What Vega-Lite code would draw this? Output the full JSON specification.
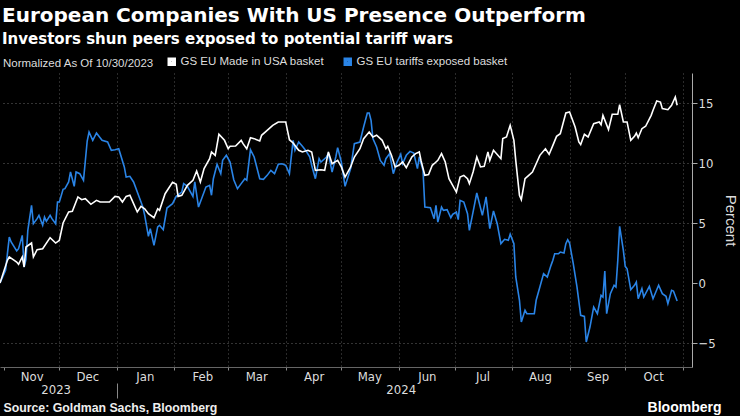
{
  "$schema": "https://vega.github.io/schema/vega-lite/v6.json",
  "width": 692,
  "height": 294,
  "autosize": {"type": "none"},
  "padding": {"left": 0, "right": 48, "top": 73, "bottom": 49},
  "background": "#000000",
  "config": {
    "view": {"stroke": null},
    "font": "Liberation Sans",
    "axis": {"labelFont": "DejaVu Sans Condensed, Liberation Sans"}
  },
  "title": {
    "text": "European Companies With US Presence Outperform",
    "subtitle": "Investors shun peers exposed to potential tariff wars",
    "anchor": "start",
    "frame": "group",
    "font": "DejaVu Sans",
    "fontSize": 20,
    "fontWeight": "bold",
    "color": "#ffffff",
    "subtitleFont": "DejaVu Sans",
    "subtitleFontSize": 15,
    "subtitleFontWeight": "bold",
    "subtitleColor": "#ffffff",
    "subtitlePadding": 6.5,
    "offset": 9,
    "dx": 2
  },
  "datasets": {
    "usa": [
      {"date": "2023-10-30", "value": 0},
      {"date": "2023-11-03", "value": 1.89},
      {"date": "2023-11-04", "value": 2.17},
      {"date": "2023-11-08", "value": 1.75},
      {"date": "2023-11-09", "value": 1.56},
      {"date": "2023-11-11", "value": 2.17},
      {"date": "2023-11-12", "value": 1.33},
      {"date": "2023-11-13", "value": 3.0},
      {"date": "2023-11-16", "value": 3.33},
      {"date": "2023-11-17", "value": 2.17},
      {"date": "2023-11-19", "value": 2.78},
      {"date": "2023-11-22", "value": 2.86},
      {"date": "2023-11-26", "value": 3.78},
      {"date": "2023-11-29", "value": 3.33},
      {"date": "2023-12-01", "value": 3.56},
      {"date": "2023-12-03", "value": 5.0},
      {"date": "2023-12-06", "value": 5.92},
      {"date": "2023-12-08", "value": 5.97},
      {"date": "2023-12-11", "value": 7.17},
      {"date": "2023-12-13", "value": 6.94},
      {"date": "2023-12-15", "value": 7.03},
      {"date": "2023-12-18", "value": 6.56},
      {"date": "2023-12-21", "value": 6.89},
      {"date": "2023-12-23", "value": 6.75},
      {"date": "2023-12-28", "value": 6.75},
      {"date": "2023-12-31", "value": 7.22},
      {"date": "2024-01-02", "value": 7.17},
      {"date": "2024-01-04", "value": 6.75},
      {"date": "2024-01-06", "value": 7.22},
      {"date": "2024-01-08", "value": 7.31},
      {"date": "2024-01-10", "value": 6.61},
      {"date": "2024-01-12", "value": 5.92},
      {"date": "2024-01-14", "value": 6.39},
      {"date": "2024-01-16", "value": 6.19},
      {"date": "2024-01-18", "value": 5.78},
      {"date": "2024-01-21", "value": 5.44},
      {"date": "2024-01-23", "value": 6.19},
      {"date": "2024-01-24", "value": 6.06},
      {"date": "2024-01-27", "value": 7.44},
      {"date": "2024-01-31", "value": 8.39},
      {"date": "2024-02-02", "value": 8.22},
      {"date": "2024-02-03", "value": 7.22},
      {"date": "2024-02-05", "value": 7.31},
      {"date": "2024-02-08", "value": 8.14},
      {"date": "2024-02-11", "value": 8.56},
      {"date": "2024-02-13", "value": 9.33},
      {"date": "2024-02-15", "value": 8.42},
      {"date": "2024-02-17", "value": 9.53},
      {"date": "2024-02-20", "value": 10.36},
      {"date": "2024-02-21", "value": 10.92},
      {"date": "2024-02-23", "value": 10.64},
      {"date": "2024-02-25", "value": 12.39},
      {"date": "2024-02-28", "value": 11.89},
      {"date": "2024-03-01", "value": 11.19},
      {"date": "2024-03-02", "value": 11.39},
      {"date": "2024-03-05", "value": 11.42},
      {"date": "2024-03-08", "value": 11.89},
      {"date": "2024-03-09", "value": 11.61},
      {"date": "2024-03-11", "value": 11.19},
      {"date": "2024-03-13", "value": 12.11},
      {"date": "2024-03-15", "value": 12.03},
      {"date": "2024-03-18", "value": 11.83},
      {"date": "2024-03-19", "value": 12.31},
      {"date": "2024-03-22", "value": 12.72},
      {"date": "2024-03-25", "value": 13.14},
      {"date": "2024-03-28", "value": 13.42},
      {"date": "2024-04-01", "value": 13.42},
      {"date": "2024-04-03", "value": 11.94},
      {"date": "2024-04-05", "value": 11.67},
      {"date": "2024-04-08", "value": 11.06},
      {"date": "2024-04-10", "value": 10.92},
      {"date": "2024-04-13", "value": 11.06},
      {"date": "2024-04-15", "value": 10.92},
      {"date": "2024-04-17", "value": 9.39},
      {"date": "2024-04-20", "value": 9.44},
      {"date": "2024-04-22", "value": 9.39},
      {"date": "2024-04-24", "value": 10.92},
      {"date": "2024-04-26", "value": 9.94},
      {"date": "2024-04-29", "value": 10.22},
      {"date": "2024-05-01", "value": 9.67},
      {"date": "2024-05-03", "value": 8.83},
      {"date": "2024-05-06", "value": 9.67},
      {"date": "2024-05-08", "value": 10.5},
      {"date": "2024-05-11", "value": 11.19},
      {"date": "2024-05-13", "value": 12.03},
      {"date": "2024-05-16", "value": 12.58},
      {"date": "2024-05-18", "value": 12.17},
      {"date": "2024-05-20", "value": 12.31},
      {"date": "2024-05-23", "value": 11.89},
      {"date": "2024-05-25", "value": 11.19},
      {"date": "2024-05-26", "value": 11.39},
      {"date": "2024-05-28", "value": 10.64},
      {"date": "2024-05-30", "value": 9.67},
      {"date": "2024-06-01", "value": 9.81},
      {"date": "2024-06-03", "value": 10.08},
      {"date": "2024-06-05", "value": 9.61},
      {"date": "2024-06-08", "value": 10.5},
      {"date": "2024-06-10", "value": 10.78},
      {"date": "2024-06-12", "value": 10.92},
      {"date": "2024-06-13", "value": 10.17},
      {"date": "2024-06-15", "value": 8.97},
      {"date": "2024-06-17", "value": 9.03},
      {"date": "2024-06-19", "value": 9.81},
      {"date": "2024-06-20", "value": 9.94},
      {"date": "2024-06-22", "value": 10.22},
      {"date": "2024-06-24", "value": 10.78},
      {"date": "2024-06-26", "value": 10.08},
      {"date": "2024-06-28", "value": 8.69},
      {"date": "2024-06-30", "value": 8.14},
      {"date": "2024-07-02", "value": 7.58},
      {"date": "2024-07-04", "value": 8.83},
      {"date": "2024-07-06", "value": 8.97},
      {"date": "2024-07-08", "value": 8.69},
      {"date": "2024-07-09", "value": 8.28},
      {"date": "2024-07-11", "value": 9.25},
      {"date": "2024-07-13", "value": 10.5},
      {"date": "2024-07-15", "value": 9.67},
      {"date": "2024-07-17", "value": 9.72},
      {"date": "2024-07-19", "value": 10.92},
      {"date": "2024-07-20", "value": 10.22},
      {"date": "2024-07-22", "value": 11.06},
      {"date": "2024-07-26", "value": 10.36},
      {"date": "2024-07-27", "value": 12.03},
      {"date": "2024-07-29", "value": 12.17},
      {"date": "2024-07-31", "value": 13.14},
      {"date": "2024-08-02", "value": 11.89},
      {"date": "2024-08-03", "value": 10.22},
      {"date": "2024-08-05", "value": 7.31},
      {"date": "2024-08-06", "value": 6.94},
      {"date": "2024-08-08", "value": 8.69},
      {"date": "2024-08-10", "value": 8.97},
      {"date": "2024-08-12", "value": 9.25},
      {"date": "2024-08-14", "value": 9.94},
      {"date": "2024-08-16", "value": 10.64},
      {"date": "2024-08-19", "value": 11.19},
      {"date": "2024-08-21", "value": 10.72},
      {"date": "2024-08-23", "value": 11.47},
      {"date": "2024-08-25", "value": 12.22},
      {"date": "2024-08-27", "value": 12.44},
      {"date": "2024-08-30", "value": 14.17},
      {"date": "2024-09-01", "value": 14.25},
      {"date": "2024-09-04", "value": 13.0},
      {"date": "2024-09-06", "value": 11.75},
      {"date": "2024-09-07", "value": 11.53},
      {"date": "2024-09-09", "value": 12.39},
      {"date": "2024-09-11", "value": 12.17},
      {"date": "2024-09-14", "value": 13.28},
      {"date": "2024-09-17", "value": 13.42},
      {"date": "2024-09-18", "value": 13.19},
      {"date": "2024-09-19", "value": 13.97},
      {"date": "2024-09-22", "value": 12.78},
      {"date": "2024-09-24", "value": 14.06},
      {"date": "2024-09-27", "value": 14.06},
      {"date": "2024-09-28", "value": 14.86},
      {"date": "2024-09-30", "value": 13.42},
      {"date": "2024-10-02", "value": 13.42},
      {"date": "2024-10-04", "value": 11.89},
      {"date": "2024-10-06", "value": 12.22},
      {"date": "2024-10-07", "value": 12.5},
      {"date": "2024-10-08", "value": 12.11},
      {"date": "2024-10-10", "value": 12.86},
      {"date": "2024-10-12", "value": 13.06},
      {"date": "2024-10-15", "value": 13.97},
      {"date": "2024-10-16", "value": 14.39},
      {"date": "2024-10-18", "value": 15.17},
      {"date": "2024-10-20", "value": 15.08},
      {"date": "2024-10-21", "value": 14.53},
      {"date": "2024-10-24", "value": 14.44},
      {"date": "2024-10-26", "value": 14.81},
      {"date": "2024-10-28", "value": 15.5},
      {"date": "2024-10-29", "value": 14.81}
    ],
    "tariff": [
      {"date": "2023-10-30", "value": 0},
      {"date": "2023-11-02", "value": 1.06},
      {"date": "2023-11-04", "value": 3.83},
      {"date": "2023-11-05", "value": 3.42},
      {"date": "2023-11-08", "value": 2.67},
      {"date": "2023-11-09", "value": 2.86},
      {"date": "2023-11-11", "value": 3.97},
      {"date": "2023-11-12", "value": 1.33},
      {"date": "2023-11-13", "value": 1.94},
      {"date": "2023-11-14", "value": 4.39},
      {"date": "2023-11-16", "value": 6.47},
      {"date": "2023-11-17", "value": 4.94},
      {"date": "2023-11-19", "value": 5.36},
      {"date": "2023-11-20", "value": 5.64},
      {"date": "2023-11-22", "value": 4.81},
      {"date": "2023-11-23", "value": 5.5},
      {"date": "2023-11-24", "value": 5.14},
      {"date": "2023-11-26", "value": 5.64},
      {"date": "2023-11-27", "value": 5.36},
      {"date": "2023-11-29", "value": 4.94},
      {"date": "2023-11-30", "value": 6.75},
      {"date": "2023-12-01", "value": 6.75},
      {"date": "2023-12-03", "value": 7.81},
      {"date": "2023-12-04", "value": 7.86},
      {"date": "2023-12-06", "value": 8.42},
      {"date": "2023-12-07", "value": 9.25},
      {"date": "2023-12-09", "value": 8.06},
      {"date": "2023-12-10", "value": 9.25},
      {"date": "2023-12-12", "value": 9.11},
      {"date": "2023-12-14", "value": 8.56},
      {"date": "2023-12-16", "value": 11.83},
      {"date": "2023-12-17", "value": 12.58},
      {"date": "2023-12-19", "value": 11.89},
      {"date": "2023-12-21", "value": 12.5},
      {"date": "2023-12-24", "value": 11.89},
      {"date": "2023-12-27", "value": 11.75},
      {"date": "2023-12-29", "value": 11.06},
      {"date": "2023-12-31", "value": 11.11},
      {"date": "2024-01-02", "value": 11.19},
      {"date": "2024-01-05", "value": 9.67},
      {"date": "2024-01-06", "value": 8.83},
      {"date": "2024-01-08", "value": 8.89},
      {"date": "2024-01-10", "value": 8.42},
      {"date": "2024-01-13", "value": 7.17},
      {"date": "2024-01-15", "value": 6.33},
      {"date": "2024-01-16", "value": 5.64},
      {"date": "2024-01-18", "value": 3.89},
      {"date": "2024-01-19", "value": 4.53},
      {"date": "2024-01-21", "value": 3.14},
      {"date": "2024-01-23", "value": 4.67},
      {"date": "2024-01-24", "value": 4.81},
      {"date": "2024-01-26", "value": 4.44},
      {"date": "2024-01-28", "value": 6.25},
      {"date": "2024-01-31", "value": 6.61},
      {"date": "2024-02-02", "value": 7.22},
      {"date": "2024-02-05", "value": 7.58},
      {"date": "2024-02-06", "value": 8.28},
      {"date": "2024-02-08", "value": 8.06},
      {"date": "2024-02-11", "value": 7.22},
      {"date": "2024-02-12", "value": 8.42},
      {"date": "2024-02-14", "value": 6.33},
      {"date": "2024-02-16", "value": 7.17},
      {"date": "2024-02-18", "value": 8.0},
      {"date": "2024-02-20", "value": 8.14},
      {"date": "2024-02-21", "value": 7.31},
      {"date": "2024-02-22", "value": 8.69},
      {"date": "2024-02-24", "value": 9.89},
      {"date": "2024-02-26", "value": 9.11},
      {"date": "2024-02-27", "value": 10.22},
      {"date": "2024-02-29", "value": 10.64},
      {"date": "2024-03-02", "value": 10.08},
      {"date": "2024-03-04", "value": 8.61},
      {"date": "2024-03-06", "value": 7.86},
      {"date": "2024-03-08", "value": 8.28},
      {"date": "2024-03-10", "value": 8.69},
      {"date": "2024-03-11", "value": 8.56},
      {"date": "2024-03-13", "value": 11.11},
      {"date": "2024-03-15", "value": 10.5},
      {"date": "2024-03-16", "value": 9.89},
      {"date": "2024-03-18", "value": 8.69},
      {"date": "2024-03-20", "value": 8.64},
      {"date": "2024-03-22", "value": 8.97},
      {"date": "2024-03-24", "value": 9.39},
      {"date": "2024-03-26", "value": 9.11},
      {"date": "2024-03-28", "value": 9.89},
      {"date": "2024-03-30", "value": 9.94},
      {"date": "2024-04-01", "value": 9.81},
      {"date": "2024-04-03", "value": 9.11},
      {"date": "2024-04-05", "value": 11.89},
      {"date": "2024-04-06", "value": 11.06},
      {"date": "2024-04-08", "value": 11.75},
      {"date": "2024-04-10", "value": 11.39},
      {"date": "2024-04-12", "value": 11.0},
      {"date": "2024-04-14", "value": 10.5},
      {"date": "2024-04-15", "value": 9.81},
      {"date": "2024-04-17", "value": 8.69},
      {"date": "2024-04-19", "value": 10.36},
      {"date": "2024-04-20", "value": 10.08},
      {"date": "2024-04-23", "value": 10.5},
      {"date": "2024-04-24", "value": 10.78},
      {"date": "2024-04-26", "value": 9.25},
      {"date": "2024-04-28", "value": 10.5},
      {"date": "2024-04-29", "value": 11.28},
      {"date": "2024-05-01", "value": 10.08},
      {"date": "2024-05-03", "value": 8.06},
      {"date": "2024-05-06", "value": 9.53},
      {"date": "2024-05-08", "value": 11.61},
      {"date": "2024-05-11", "value": 11.75},
      {"date": "2024-05-13", "value": 13.0},
      {"date": "2024-05-15", "value": 14.17},
      {"date": "2024-05-16", "value": 14.17},
      {"date": "2024-05-17", "value": 13.56},
      {"date": "2024-05-18", "value": 12.03},
      {"date": "2024-05-20", "value": 11.33},
      {"date": "2024-05-22", "value": 10.22},
      {"date": "2024-05-24", "value": 9.81},
      {"date": "2024-05-25", "value": 10.36},
      {"date": "2024-05-27", "value": 10.78},
      {"date": "2024-05-29", "value": 9.11},
      {"date": "2024-05-31", "value": 10.08},
      {"date": "2024-06-02", "value": 10.72},
      {"date": "2024-06-03", "value": 9.94},
      {"date": "2024-06-05", "value": 10.64},
      {"date": "2024-06-07", "value": 10.97},
      {"date": "2024-06-09", "value": 10.83},
      {"date": "2024-06-11", "value": 9.53},
      {"date": "2024-06-12", "value": 10.5},
      {"date": "2024-06-14", "value": 9.39},
      {"date": "2024-06-15", "value": 6.33},
      {"date": "2024-06-18", "value": 6.28},
      {"date": "2024-06-20", "value": 5.36},
      {"date": "2024-06-21", "value": 6.47},
      {"date": "2024-06-22", "value": 5.08},
      {"date": "2024-06-24", "value": 6.33},
      {"date": "2024-06-25", "value": 6.06},
      {"date": "2024-06-27", "value": 6.11},
      {"date": "2024-06-29", "value": 5.44},
      {"date": "2024-06-30", "value": 5.72},
      {"date": "2024-07-02", "value": 5.92},
      {"date": "2024-07-03", "value": 5.28},
      {"date": "2024-07-04", "value": 6.89},
      {"date": "2024-07-06", "value": 6.75},
      {"date": "2024-07-08", "value": 5.78},
      {"date": "2024-07-09", "value": 4.39},
      {"date": "2024-07-11", "value": 5.92},
      {"date": "2024-07-13", "value": 7.5},
      {"date": "2024-07-16", "value": 5.64},
      {"date": "2024-07-18", "value": 7.17},
      {"date": "2024-07-20", "value": 4.53},
      {"date": "2024-07-22", "value": 6.0},
      {"date": "2024-07-24", "value": 4.94},
      {"date": "2024-07-26", "value": 3.28},
      {"date": "2024-07-28", "value": 3.64},
      {"date": "2024-07-30", "value": 3.56},
      {"date": "2024-07-31", "value": 4.06},
      {"date": "2024-08-02", "value": 3.28},
      {"date": "2024-08-03", "value": 0.5},
      {"date": "2024-08-05", "value": -1.44},
      {"date": "2024-08-06", "value": -3.25},
      {"date": "2024-08-08", "value": -2.28},
      {"date": "2024-08-09", "value": -2.56},
      {"date": "2024-08-11", "value": -2.56},
      {"date": "2024-08-13", "value": -2.56},
      {"date": "2024-08-14", "value": -1.44},
      {"date": "2024-08-16", "value": -0.33},
      {"date": "2024-08-18", "value": 0.78},
      {"date": "2024-08-20", "value": 0.5},
      {"date": "2024-08-22", "value": 1.47},
      {"date": "2024-08-23", "value": 1.89},
      {"date": "2024-08-24", "value": 2.44},
      {"date": "2024-08-26", "value": 2.44},
      {"date": "2024-08-27", "value": 2.58},
      {"date": "2024-08-29", "value": 2.5},
      {"date": "2024-08-30", "value": 3.28},
      {"date": "2024-08-31", "value": 3.61},
      {"date": "2024-09-01", "value": 3.33},
      {"date": "2024-09-03", "value": 1.61},
      {"date": "2024-09-05", "value": -0.33},
      {"date": "2024-09-07", "value": -2.69},
      {"date": "2024-09-09", "value": -2.78},
      {"date": "2024-09-10", "value": -4.92},
      {"date": "2024-09-12", "value": -3.67},
      {"date": "2024-09-14", "value": -2.0},
      {"date": "2024-09-16", "value": -2.56},
      {"date": "2024-09-18", "value": -1.03},
      {"date": "2024-09-19", "value": -1.17},
      {"date": "2024-09-20", "value": 1.0},
      {"date": "2024-09-21", "value": -2.56},
      {"date": "2024-09-23", "value": -0.89},
      {"date": "2024-09-25", "value": -0.19},
      {"date": "2024-09-26", "value": -0.33},
      {"date": "2024-09-27", "value": 1.89},
      {"date": "2024-09-28", "value": 4.72},
      {"date": "2024-09-30", "value": 2.72},
      {"date": "2024-10-01", "value": 1.39},
      {"date": "2024-10-02", "value": 1.19},
      {"date": "2024-10-04", "value": -0.56},
      {"date": "2024-10-06", "value": -0.19},
      {"date": "2024-10-07", "value": 0.08},
      {"date": "2024-10-08", "value": -1.31},
      {"date": "2024-10-10", "value": -0.47},
      {"date": "2024-10-11", "value": -1.17},
      {"date": "2024-10-14", "value": -0.28},
      {"date": "2024-10-16", "value": -1.31},
      {"date": "2024-10-19", "value": -0.19},
      {"date": "2024-10-21", "value": -0.89},
      {"date": "2024-10-23", "value": -1.11},
      {"date": "2024-10-24", "value": -1.72},
      {"date": "2024-10-26", "value": -0.61},
      {"date": "2024-10-27", "value": -0.67},
      {"date": "2024-10-29", "value": -1.5}
    ]
  },
  "resolve": {"axis": {"x": "independent"}},
  "layer": [
    {
      "mark": {"type": "rule", "color": "#e6e6e6", "strokeDash": [2, 2], "strokeWidth": 1.5},
      "encoding": {
        "y": {"datum": 0, "type": "quantitative", "scale": {"domain": [-7, 17.5], "nice": false, "zero": false}}
      }
    },
    {
      "data": {"name": "tariff"},
      "mark": {"type": "line", "strokeWidth": 1.6},
      "encoding": {
        "x": {
          "field": "date",
          "type": "temporal",
          "scale": {"domain": [{"year": 2023, "month": 10, "date": 30}, {"year": 2024, "month": 11, "date": 6}]},
          "axis": {
            "orient": "bottom",
            "offset": 16,
            "values": [{"year": 2023, "month": 11, "date": 29}, {"year": 2024, "month": 1, "date": 1}, {"year": 2024, "month": 6, "date": 2}],
            "labelExpr": "month(datum.value) === 0 ? '' : timeFormat(datum.value, '%Y')",
            "grid": false,
            "domain": false,
            "tickSize": 15,
            "tickColor": "#888888",
            "tickOpacity": {"condition": {"test": "month(datum.value) === 0", "value": 1}, "value": 0},
            "labelPadding": -15,
            "labelFont": "DejaVu Sans Condensed, Liberation Sans",
            "labelFontSize": 13,
            "labelColor": "#dddddd",
            "labelFlush": false,
            "labelOverlap": false,
            "title": "Source: Goldman Sachs, Bloomberg",
            "titleX": 3,
            "titleY": 24,
            "titleAlign": "left",
            "titleAnchor": "start",
            "titleBaseline": "middle",
            "titleFont": "Liberation Sans",
            "titleFontSize": 12.3,
            "titleFontWeight": "bold",
            "titleColor": "#eeeeee"
          }
        },
        "y": {
          "field": "value",
          "type": "quantitative",
          "scale": {"domain": [-7, 17.5], "nice": false, "zero": false},
          "axis": {
            "orient": "right",
            "values": [-5, -2.5, 0, 2.5, 5, 7.5, 10, 12.5, 15, 17.5],
            "labelExpr": "datum.value % 5 === 0 ? datum.label : ''",
            "grid": true,
            "gridColor": "#666666",
            "gridDash": [1, 3],
            "gridOpacity": {"condition": {"test": "datum.value % 5 === 0 && datum.value !== 0", "value": 1}, "value": 0},
            "domain": true,
            "domainColor": "#aaaaaa",
            "tickColor": "#aaaaaa",
            "tickSize": 5,
            "labelFont": "DejaVu Sans Condensed, Liberation Sans",
            "labelFontSize": 13,
            "labelColor": "#dddddd",
            "labelPadding": 1,
            "title": "Percent",
            "titleFont": "Liberation Sans",
            "titleFontSize": 15,
            "titleFontWeight": "normal",
            "titleColor": "#dddddd",
            "titlePadding": 7
          }
        },
        "color": {
          "datum": "GS EU tariffs exposed basket",
          "type": "nominal",
          "scale": {"domain": ["GS EU Made in USA basket", "GS EU tariffs exposed basket"], "range": ["#ffffff", "#2a84e6"]},
          "legend": {
            "orient": "none",
            "legendX": 3,
            "legendY": -17,
            "direction": "horizontal",
            "title": "Normalized As Of 10/30/2023",
            "titleOrient": "left",
            "titleFont": "Liberation Sans",
            "titleFontSize": 11.5,
            "titleFontWeight": "normal",
            "titleColor": "#dddddd",
            "titlePadding": 12,
            "labelFont": "Liberation Sans",
            "labelFontSize": 11.5,
            "labelColor": "#dddddd",
            "symbolType": "square",
            "symbolSize": 20,
            "symbolStrokeWidth": 4,
            "columnPadding": 12,
            "labelOffset": 3
          }
        }
      }
    },
    {
      "data": {"name": "usa"},
      "mark": {"type": "line", "strokeWidth": 1.6},
      "encoding": {
        "x": {
          "field": "date",
          "type": "temporal",
          "axis": {
            "orient": "bottom",
            "values": [
              {"year": 2023, "month": 11, "date": 1}, {"year": 2023, "month": 12, "date": 1},
              {"year": 2024, "month": 1, "date": 1}, {"year": 2024, "month": 2, "date": 1},
              {"year": 2024, "month": 3, "date": 1}, {"year": 2024, "month": 4, "date": 1},
              {"year": 2024, "month": 5, "date": 1}, {"year": 2024, "month": 6, "date": 1},
              {"year": 2024, "month": 7, "date": 1}, {"year": 2024, "month": 8, "date": 1},
              {"year": 2024, "month": 9, "date": 1}, {"year": 2024, "month": 10, "date": 1},
              {"year": 2024, "month": 11, "date": 1}
            ],
            "labelExpr": "year(datum.value) === 2024 && month(datum.value) === 10 ? '' : timeFormat(datum.value, '%b')",
            "labelOffset": 28,
            "labelAlign": "center",
            "labelFlush": false,
            "labelOverlap": false,
            "grid": true,
            "gridColor": "#555555",
            "gridDash": [1, 3],
            "gridOpacity": {"condition": {"test": "year(datum.value) === 2023 && month(datum.value) === 10", "value": 0}, "value": 1},
            "domain": true,
            "domainColor": "#666666",
            "tickSize": 3,
            "tickColor": "#888888",
            "labelPadding": 0,
            "labelFont": "DejaVu Sans Condensed, Liberation Sans",
            "labelFontSize": 13,
            "labelColor": "#dddddd",
            "title": "Bloomberg",
            "titleX": 721,
            "titleY": 40,
            "titleAlign": "right",
            "titleBaseline": "middle",
            "titleFont": "Liberation Sans",
            "titleFontSize": 14,
            "titleFontWeight": "bold",
            "titleColor": "#ffffff"
          }
        },
        "y": {"field": "value", "type": "quantitative"},
        "color": {"datum": "GS EU Made in USA basket", "type": "nominal"}
      }
    }
  ]
}
